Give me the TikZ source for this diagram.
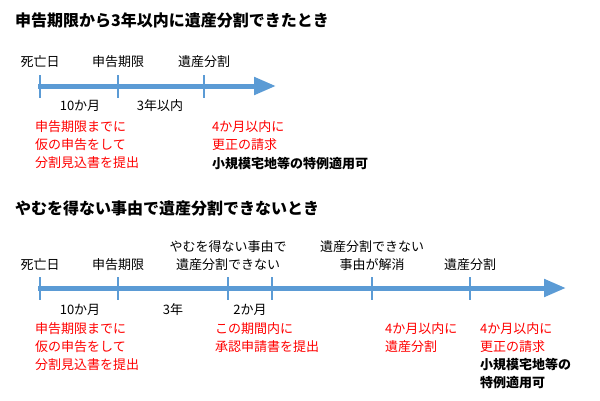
\documentclass[tikz,border=0pt]{standalone}
\usepackage{fontspec}
\setmainfont{Noto Sans CJK JP}
\usetikzlibrary{arrows.meta}
\definecolor{ab}{HTML}{5B9BD5}
\definecolor{rd}{HTML}{FF0000}
\begin{document}
\begin{tikzpicture}[x=1pt,y=-1pt,
  txt/.style={font=\fontsize{13}{15}\selectfont,inner sep=0pt},
  lbl/.style={txt,anchor=center,align=center},
  red/.style={txt,anchor=north west,align=left,text=rd,font=\fontsize{13}{18}\selectfont},
  ttl/.style={anchor=west,inner sep=0pt,font=\fontsize{16}{18}\selectfont\bfseries},
  shaft/.style={ab,line width=5pt,-{Triangle[length=22pt,width=17pt]}},
  tick/.style={ab,line width=1.5pt}]
\useasboundingbox (0,0) rectangle (600,400);
\node[ttl] (t1) at (15,20) {申告期限から3年以内に遺産分割できたとき};
\coordinate (a1s) at (38,86); \coordinate (a1e) at (276,86);
\draw[shaft] (a1s) -- (a1e);
\foreach \x in {40,118,204}{\draw[tick] (\x,75) -- (\x,98);}
\node[lbl] (d1) at (40,62) {死亡日};
\node[lbl] (k1) at (118,62) {申告期限};
\node[lbl] (b1) at (204,62) {遺産分割};
\node[lbl] (m1) at (80,106) {10か月};
\node[lbl] (y1) at (160,106) {3年以内};
\node[red] (r1) at (35,120) {申告期限までに\\仮の申告をして\\分割見込書を提出};
\node[red] (r2) at (212,120) {4か月以内に\\更正の請求\\\phantom{x}};
\node[txt,anchor=west,font=\fontsize{13}{15}\selectfont\bfseries] (s1) at (212,164) {小規模宅地等の特例適用可};

\node[ttl] (t2) at (15,208) {やむを得ない事由で遺産分割できないとき};
\coordinate (a2s) at (38,288); \coordinate (a2e) at (566,288);
\draw[shaft] (a2s) -- (a2e);
\foreach \x in {40,118,228,272,372,470}{\draw[tick] (\x,277) -- (\x,300);}
\node[lbl] (d2) at (40,265) {死亡日};
\node[lbl] (k2) at (118,265) {申告期限};
\node[lbl,font=\fontsize{13}{18}\selectfont] (y2) at (228,256) {やむを得ない事由で\\遺産分割できない};
\node[lbl,font=\fontsize{13}{18}\selectfont] (e2) at (372,256) {遺産分割できない\\事由が解消};
\node[lbl] (b2) at (470,265) {遺産分割};
\node[lbl] (m2) at (80,310) {10か月};
\node[lbl] (n2) at (173,310) {3年};
\node[lbl] (c2) at (250,310) {2か月};
\node[red] (r3) at (35,322) {申告期限までに\\仮の申告をして\\分割見込書を提出};
\node[red] (r4) at (215,322) {この期間内に\\承認申請書を提出};
\node[red] (r5) at (385,322) {4か月以内に\\遺産分割};
\node[red] (r6) at (480,322) {4か月以内に\\更正の請求};
\node[txt,anchor=north west,align=left,font=\fontsize{13}{18}\selectfont\bfseries] (s2) at (480,358) {小規模宅地等の\\特例適用可};
\end{tikzpicture}
\end{document}
